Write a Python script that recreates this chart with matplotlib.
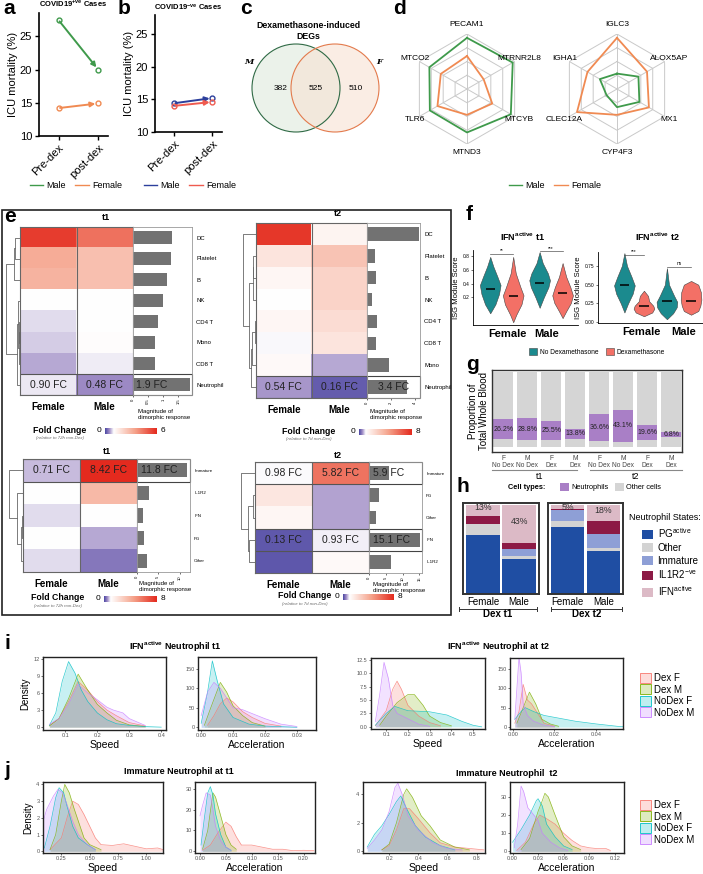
import numpy as np
import matplotlib
matplotlib.use('Agg')
import matplotlib.pyplot as plt
from matplotlib.colors import LinearSegmentedColormap, TwoSlopeNorm, to_rgba
from matplotlib.patches import Rectangle, Circle, Patch
from matplotlib.lines import Line2D
import matplotlib.transforms as mtrans

plt.rcParams['font.family'] = ['Liberation Sans', 'DejaVu Sans']
plt.rcParams['mathtext.default'] = 'regular'
plt.rcParams['axes.linewidth'] = 0.8

# ------------------------------------------------------------------ data
# a / b : ICU mortality
ab_timepoints = ['Pre-dex', 'post-dex']
a_male = [27.4, 20.0]
a_female = [14.2, 14.9]
b_male = [14.4, 15.2]
b_female = [14.0, 14.6]

# c : Venn counts
venn_m_only, venn_both, venn_f_only = 382, 525, 510

# d : radar charts
radar1_genes = ['PECAM1', 'MTRNR2L8', 'MTCYB', 'MTND3', 'TLR6', 'MTCO2']
radar1_male = [0.93, 0.96, 0.92, 0.79, 0.78, 0.79]
radar1_female = [0.60, 0.35, 0.53, 0.47, 0.62, 0.55]
radar2_genes = ['IGLC3', 'ALOX5AP', 'MX1', 'CYP4F3', 'CLEC12A', 'IGHA1']
radar2_male = [0.28, 0.45, 0.47, 0.33, 0.22, 0.36]
radar2_female = [0.93, 0.63, 0.67, 0.47, 0.84, 0.62]

# e : fold-change heatmaps
e_t1_cells = ['DC', 'Platelet', 'B', 'NK', 'CD4 T', 'Mono', 'CD8 T', 'Neutrophil']
e_t1_female = [5.6, 3.2, 3.0, 1.0, 0.85, 0.78, 0.62, 0.90]
e_t1_male = [4.5, 2.7, 2.7, 1.0, 1.0, 1.05, 0.92, 0.48]
e_t1_dimorph = [1.28, 1.25, 1.13, 0.98, 0.83, 0.74, 0.72, 1.9]
e_t1_links = [(0, 1, 0.35), (8, 2, 0.45), (4, 5, 0.05), (10, 6, 0.08), (3, 11, 0.12), (12, 7, 0.2), (9, 13, 1.0)]

e_t2_cells = ['DC', 'Platelet', 'B', 'NK', 'CD4 T', 'CD8 T', 'Mono', 'Neutrophil']
e_t2_female = [7.6, 2.0, 1.3, 1.0, 1.3, 0.97, 1.2, 0.54]
e_t2_male = [1.4, 3.2, 2.6, 2.6, 2.3, 2.0, 0.62, 0.16]
e_t2_dimorph = [4.4, 0.65, 0.73, 0.45, 0.84, 0.73, 1.83, 3.4]
e_t2_links = [(1, 2, 0.2), (8, 3, 0.25), (4, 5, 0.1), (10, 6, 0.3), (11, 7, 0.35), (9, 12, 0.55), (0, 13, 1.0)]

e_t1n_states = ['Immature', 'IL1R2', 'IFN', 'PG', 'Other']
e_t1n_female = [0.71, 1.05, 0.85, 1.0, 0.85]
e_t1n_male = [8.42, 3.6, 1.05, 0.62, 0.35]
e_t1n_dimorph = [11.8, 2.75, 1.5, 1.6, 2.4]
e_t1n_links = [(2, 3, 0.1), (5, 4, 0.15), (1, 6, 0.4), (0, 7, 1.0)]

e_t2n_states = ['Immature', 'PG', 'Other', 'IFN', 'IL1R2']
e_t2n_female = [0.98, 1.9, 1.3, 0.13, 0.12]
e_t2n_male = [5.82, 0.6, 0.6, 0.93, 1.2]
e_t2n_dimorph = [5.9, 3.1, 2.1, 15.1, 6.6]
e_t2n_links = [(1, 2, 0.15), (3, 4, 0.4), (5, 6, 0.5), (0, 7, 1.0)]

# f : violin profiles (y coordinate, relative density) and medians
f_t1_coords = [[-0.03, 0.1, 0.25, 0.38, 0.5, 0.65, 0.79],
               [-0.16, -0.05, 0.1, 0.23, 0.35, 0.55, 0.79],
               [0.05, 0.2, 0.35, 0.45, 0.55, 0.7, 0.86],
               [-0.1, 0.0, 0.12, 0.23, 0.35, 0.5, 0.7]]
f_t1_dens = [[0, 0.5, 0.85, 1.0, 0.7, 0.3, 0],
             [0, 0.3, 0.8, 1.0, 0.7, 0.25, 0],
             [0, 0.4, 0.85, 1.0, 0.8, 0.3, 0],
             [0, 0.35, 0.8, 1.0, 0.75, 0.35, 0]]
f_t1_median = [0.33, 0.22, 0.41, 0.26]
f_t2_coords = [[0.13, 0.25, 0.38, 0.49, 0.6, 0.75, 0.92],
               [0.08, 0.13, 0.18, 0.22, 0.28, 0.35, 0.42],
               [0.04, 0.12, 0.2, 0.27, 0.35, 0.5, 0.72],
               [0.1, 0.15, 0.22, 0.3, 0.4, 0.5, 0.55]]
f_t2_dens = [[0, 0.35, 0.8, 1.0, 0.7, 0.25, 0],
             [0, 0.8, 1.0, 0.9, 0.5, 0.4, 0],
             [0, 0.6, 0.95, 1.0, 0.7, 0.2, 0],
             [0, 0.7, 0.9, 1.0, 0.95, 0.7, 0]]
f_t2_median = [0.49, 0.21, 0.28, 0.28]

# g : proportion of whole blood
g_labels = ['F\nNo Dex', 'M\nNo Dex', 'F\nDex', 'M\nDex', 'F\nNo Dex', 'M\nNo Dex', 'F\nDex', 'M\nDex']
g_neutro = [26.2, 28.8, 25.5, 13.8, 36.6, 43.1, 19.6, 6.8]
g_other_lower = [10.7, 9.3, 9.3, 10.7, 8.0, 6.7, 9.3, 13.3]

# h : neutrophil states (%), bottom to top
h_states = ['PG$^{active}$', 'Other', 'Immature', 'IL1R2$^{-ve}$', 'IFN$^{active}$']
h_t1_female = [66, 12, 1, 8, 13]
h_t1_male = [39, 3.5, 8, 6.5, 43]
h_t2_female = [75, 7, 12, 1, 5]
h_t2_male = [48, 4, 15, 15, 18]

# i / j : density curves (x, density) for Dex F, Dex M, NoDex F, NoDex M
dens_groups = ['Dex F', 'Dex M', 'NoDex F', 'NoDex M']
i1_curves = [([0.05, 0.08, 0.11, 0.14, 0.17, 0.2, 0.23, 0.26, 0.3, 0.35], [0.3, 1.5, 4.5, 8.0, 6.5, 4.5, 3.0, 2.0, 0.8, 0.2]),
             ([0.05, 0.08, 0.11, 0.14, 0.17, 0.2, 0.23, 0.26, 0.3, 0.35], [0.2, 1.5, 5.0, 9.3, 6.5, 4.0, 2.5, 1.2, 0.4, 0.1]),
             ([0.05, 0.07, 0.09, 0.11, 0.13, 0.15, 0.17, 0.2, 0.23, 0.26, 0.3, 0.35, 0.4], [0.3, 2.5, 8.0, 11.5, 9.5, 6.5, 4.5, 2.5, 1.3, 0.6, 0.3, 0.1, 0.0]),
             ([0.05, 0.08, 0.11, 0.14, 0.17, 0.2, 0.23, 0.25, 0.28, 0.3, 0.35], [0.5, 1.5, 4.0, 7.5, 6.0, 4.8, 3.5, 3.0, 2.5, 1.5, 0.3])]
i2_curves = [([0.002, 0.004, 0.006, 0.008, 0.01, 0.013, 0.016, 0.02, 0.025], [5, 30, 60, 75, 65, 40, 25, 10, 3]),
             ([0.001, 0.003, 0.006, 0.008, 0.01, 0.013, 0.016, 0.02], [5, 50, 115, 90, 55, 30, 12, 3]),
             ([0.0, 0.002, 0.0035, 0.005, 0.007, 0.01, 0.015, 0.02, 0.03], [10, 90, 170, 120, 60, 25, 8, 3, 0]),
             ([0.0, 0.002, 0.004, 0.006, 0.008, 0.01, 0.013, 0.016, 0.02, 0.025, 0.03], [30, 90, 115, 100, 75, 50, 45, 35, 22, 8, 2])]
i3_curves = [([0.05, 0.1, 0.13, 0.15, 0.17, 0.2, 0.25, 0.3, 0.35], [0.2, 3, 7, 8.5, 7, 4, 2, 0.8, 0.2]),
             ([0.07, 0.1, 0.15, 0.2, 0.23, 0.27, 0.3, 0.35, 0.4], [0.3, 2, 4.5, 6, 6, 4, 2, 0.8, 0.2]),
             ([0.05, 0.1, 0.14, 0.2, 0.3, 0.38, 0.45, 0.5, 0.54], [0.3, 2.5, 3.8, 3.0, 2.8, 2.2, 1.0, 0.3, 0.0]),
             ([0.05, 0.07, 0.09, 0.11, 0.13, 0.15, 0.2, 0.25, 0.3], [1, 6, 12, 9, 4, 2.5, 1.5, 0.5, 0.1])]
i4_curves = [([0.001, 0.003, 0.005, 0.007, 0.009, 0.012, 0.015, 0.02], [10, 40, 110, 70, 60, 35, 10, 2]),
             ([0.002, 0.005, 0.008, 0.011, 0.014, 0.018, 0.022], [10, 50, 90, 60, 20, 8, 2]),
             ([0.001, 0.004, 0.006, 0.01, 0.015, 0.02, 0.03, 0.04, 0.05, 0.055], [20, 40, 50, 40, 30, 25, 15, 8, 2, 0]),
             ([0.001, 0.002, 0.003, 0.004, 0.005, 0.007, 0.01, 0.015, 0.02], [20, 100, 180, 140, 60, 30, 15, 5, 1])]
j1_curves = [([0.15, 0.25, 0.3, 0.35, 0.4, 0.45, 0.5, 0.55, 0.6, 0.7, 0.8, 0.9, 1.0, 1.1, 1.15], [0.1, 0.8, 2.0, 3.0, 2.8, 2.2, 1.5, 0.8, 0.4, 0.35, 0.45, 0.3, 0.15, 0.2, 0.1]),
             ([0.15, 0.2, 0.25, 0.28, 0.32, 0.36, 0.4, 0.45, 0.5, 0.6], [0.1, 1.0, 3.0, 4.0, 3.5, 2.6, 1.8, 0.8, 0.4, 0.1]),
             ([0.1, 0.15, 0.2, 0.23, 0.27, 0.3, 0.35, 0.4, 0.48, 0.55], [0.2, 1.5, 3.2, 3.8, 3.5, 2.7, 1.5, 0.8, 0.4, 0.1]),
             ([0.09, 0.12, 0.18, 0.22, 0.26, 0.3, 0.35, 0.4, 0.45, 0.5, 0.55], [1.8, 2.5, 3.3, 3.7, 3.5, 2.8, 1.8, 1.0, 0.6, 0.3, 0.1])]
j2_curves = [([0.005, 0.02, 0.035, 0.05, 0.06, 0.07, 0.08, 0.1, 0.12, 0.14, 0.16, 0.18, 0.2, 0.22], [0.5, 3, 9, 14, 12, 7, 3, 3, 2, 1, 1, 0.3, 0.5, 0.3]),
             ([0.005, 0.015, 0.025, 0.03, 0.04, 0.05, 0.06, 0.07], [1, 10, 28, 26, 17, 8, 3, 1]),
             ([0.002, 0.008, 0.015, 0.02, 0.025, 0.03, 0.04, 0.05, 0.06], [3, 15, 28, 31, 27, 18, 8, 2, 0.5]),
             ([0.0, 0.005, 0.012, 0.02, 0.025, 0.03, 0.04, 0.05, 0.06], [17, 22, 28, 27, 20, 12, 5, 2, 0.5])]
j3_curves = [([0.15, 0.2, 0.25, 0.3, 0.34, 0.4, 0.48, 0.55, 0.65, 0.75, 0.85], [0.1, 0.4, 1.5, 3.0, 3.0, 2.3, 1.3, 0.6, 0.3, 0.2, 0.1]),
             ([0.15, 0.2, 0.25, 0.3, 0.32, 0.36, 0.42, 0.48, 0.55, 0.65, 0.75], [0.1, 0.5, 2.0, 4.0, 4.4, 3.8, 2.5, 1.8, 0.8, 0.3, 0.1]),
             ([0.05, 0.1, 0.15, 0.2, 0.25, 0.28, 0.32, 0.38, 0.45, 0.55, 0.65], [0.3, 1.2, 1.8, 2.6, 3.5, 3.9, 3.0, 1.8, 1.0, 0.4, 0.1]),
             ([0.05, 0.1, 0.15, 0.2, 0.24, 0.26, 0.29, 0.33, 0.4, 0.5, 0.6, 0.7], [0.2, 0.8, 1.5, 2.8, 4.5, 4.8, 4.0, 2.5, 1.5, 0.6, 0.2, 0.1])]
j4_curves = [([0.005, 0.015, 0.025, 0.032, 0.04, 0.05, 0.06, 0.07, 0.08, 0.09, 0.1, 0.11, 0.115], [0.5, 5, 15, 20, 18, 15, 10, 6, 3, 2, 1.5, 1.5, 0.5]),
             ([0.01, 0.02, 0.03, 0.035, 0.038, 0.042, 0.05, 0.06, 0.07, 0.08], [1, 7, 22, 28, 32, 30, 20, 8, 3, 1]),
             ([0.0, 0.01, 0.02, 0.028, 0.03, 0.035, 0.04, 0.05, 0.06, 0.07], [5, 12, 20, 28, 29, 25, 15, 8, 3, 1]),
             ([0.002, 0.006, 0.01, 0.013, 0.018, 0.025, 0.03, 0.035, 0.045, 0.055, 0.065], [2, 15, 36, 33, 24, 20, 17, 10, 5, 2, 0.5])]

# ------------------------------------------------------------------ style
GREEN = '#3f9a4b'; ORANGE = '#f08a52'; BLUE = '#2c3f9c'; RED = '#ef5b4f'
TEAL = '#1b8a8e'; SALMON = '#f37066'
PURPLE = '#a97fc6'; LGRAY = '#d5d5d5'
H_COLORS = ['#1f4ea3', '#d3d3d3', '#8e9fd6', '#8c1a45', '#dcbac6']
DENS_COLORS = ['#F8766D', '#7CAE00', '#00BFC4', '#C77CFF']
CMAP = LinearSegmentedColormap.from_list('fc', [(0, '#4a47a3'), (0.25, '#a08dc6'), (0.5, '#ffffff'),
                                                (0.75, '#f5a28a'), (1, '#e42a1e')])

W, H = 703, 874
fig = plt.figure(figsize=(W / 100, H / 100), dpi=100)


def px(x0, y0, x1, y1):
    return [x0 / W, 1 - y1 / H, (x1 - x0) / W, (y1 - y0) / H]


def ftext(x, y, s, **kw):
    return fig.text(x / W, 1 - y / H, s, **kw)


def fline(xs, ys, **kw):
    fig.add_artist(Line2D([x / W for x in xs], [1 - y / H for y in ys], transform=fig.transFigure, **kw))


# panel letters
for lab, x, y in [('a', 3, -1), ('b', 118, -1), ('c', 240, -1), ('d', 393, -1), ('e', 4, 207),
                  ('f', 466, 205), ('g', 466, 355), ('h', 456, 477), ('i', 4, 634), ('j', 4, 761)]:
    ftext(x, y, lab, fontsize=15, fontweight='bold', va='top', ha='left')


# ------------------------------------------------------------------ a, b
def line_panel(box, male, female, cm, cf, ylim, title):
    ax = fig.add_axes(px(*box))
    xs = np.arange(len(ab_timepoints))
    for vals, c in [(male, cm), (female, cf)]:
        ax.annotate('', xy=(xs[1], vals[1]), xytext=(xs[0], vals[0]),
                    arrowprops=dict(arrowstyle='-|>', color=c, lw=1.4, shrinkA=1, shrinkB=2, mutation_scale=7))
        ax.plot(xs, vals, 'o', mfc='none', mec=c, ms=3.5, mew=1)
    ax.set_xlim(-0.5, 1.25)
    ax.set_ylim(*ylim)
    ax.set_yticks([10, 15, 20, 25])
    ax.set_xticks(xs)
    ax.set_xticklabels(ab_timepoints, rotation=45, ha='right', rotation_mode='anchor')
    ax.tick_params(labelsize=8, width=1, length=3, pad=2)
    for s in ['top', 'right']:
        ax.spines[s].set_visible(False)
    for s in ['left', 'bottom']:
        ax.spines[s].set_linewidth(1.2)
    ax.set_ylabel('ICU mortality (%)', fontsize=8, labelpad=1)
    ax.set_title(title, fontsize=5.5, fontweight='bold', pad=4)
    return ax


line_panel((39, 13, 108, 136), a_male, a_female, GREEN, ORANGE, (10, 28.5), 'COVID19$^{+ve}$ Cases')
line_panel((155, 15, 222, 132), b_male, b_female, BLUE, RED, (10, 27.9), 'COVID19$^{-ve}$ Cases')
for cx, cm, cf in [(76, GREEN, ORANGE), (190, BLUE, RED), (555, GREEN, ORANGE)]:
    fig.legend([Line2D([], [], color=cm, lw=1), Line2D([], [], color=cf, lw=1)], ['Male', 'Female'],
               loc='center', bbox_to_anchor=(cx / W, 1 - 186 / H), ncol=2, frameon=False, fontsize=6.5,
               handlelength=1.5, columnspacing=1.0, handletextpad=0.4)

# ------------------------------------------------------------------ c
axc = fig.add_axes(px(240, 42, 390, 142))
axc.set_xlim(240, 390)
axc.set_ylim(142, 42)
axc.axis('off')
axc.add_patch(Circle((296, 88), 44, fc='#dfeadc', ec='none', alpha=0.6))
axc.add_patch(Circle((335, 88), 44, fc='#f8e2d3', ec='none', alpha=0.6))
axc.add_patch(Circle((296, 88), 44, fc='none', ec='#2f6a45', lw=0.8))
axc.add_patch(Circle((335, 88), 44, fc='none', ec='#e37a4c', lw=0.8))
axc.text(281, 88, str(venn_m_only), ha='center', va='center', fontsize=6)
axc.text(316, 88, str(venn_both), ha='center', va='center', fontsize=6)
axc.text(356, 88, str(venn_f_only), ha='center', va='center', fontsize=6)
axc.text(249, 62, 'M', ha='center', va='center', fontsize=6, fontstyle='italic', fontweight='bold', family='DejaVu Serif')
axc.text(379, 62, 'F', ha='center', va='center', fontsize=6, fontstyle='italic', fontweight='bold', family='DejaVu Serif')
ftext(308, 31, 'Dexamethasone-induced\nDEGs', ha='center', va='center', fontsize=6.3, fontweight='bold')


# ------------------------------------------------------------------ d
def radar(box, genes, male, female):
    ax = fig.add_axes(px(*box), projection='polar')
    ax.set_theta_zero_location('N')
    ax.set_theta_direction(-1)
    n = len(genes)
    th = np.deg2rad(np.arange(n) * 360.0 / n)
    thc = np.append(th, th[0])
    for r in [0.25, 0.5, 0.75, 1.0]:
        ax.plot(thc, [r] * len(thc), color='#c9c9c9', lw=0.7)
    for t in th:
        ax.plot([t, t], [0, 1], color='#c9c9c9', lw=0.7)
    ax.plot(thc, np.append(male, male[0]), color=GREEN, lw=1.3)
    ax.plot(thc, np.append(female, female[0]), color=ORANGE, lw=1.3)
    ax.set_ylim(0, 1)
    ax.grid(False)
    ax.spines['polar'].set_visible(False)
    ax.set_xticks([])
    ax.set_yticks([])
    ax.patch.set_alpha(0)
    for t, g in zip(th, genes):
        deg = np.rad2deg(t) % 360
        if deg < 1:
            ax.text(t, 1.1, g, ha='center', va='bottom', fontsize=6)
        elif abs(deg - 180) < 1:
            ax.text(t, 1.1, g, ha='center', va='top', fontsize=6)
        else:
            ax.text(t, 1.1, g, ha='center', va='center', fontsize=6)


radar((412, 34, 522, 144), radar1_genes, radar1_male, radar1_female)
radar((562, 34, 672, 144), radar2_genes, radar2_male, radar2_female)

# ------------------------------------------------------------------ e
fig.add_artist(Rectangle((2 / W, 1 - 615 / H), 449 / W, 405 / H, transform=fig.transFigure,
                         fill=False, ec='#222', lw=1.2))


def draw_dend(box, n, links):
    ax = fig.add_axes(px(*box))
    pos = {i: float(i) for i in range(n)}
    hgt = {i: 0.0 for i in range(n)}
    k = n
    for a, b, h in links:
        ax.plot([hgt[a], h, h, hgt[b]], [pos[a], pos[a], pos[b], pos[b]], color='#666', lw=0.6)
        pos[k] = (pos[a] + pos[b]) / 2
        hgt[k] = h
        k += 1
    ax.set_ylim(n - 0.5, -0.5)
    ax.set_xlim(1.05, 0)
    ax.axis('off')


def heat_block(hm, bar, dend, rows, fem, mal, dim, vmax, links, bxlim, bxticks, title, title_xy,
               hl, bar_tx, lab_fs, mag_xy):
    n = len(rows)
    norm = TwoSlopeNorm(vmin=0, vcenter=1, vmax=vmax)
    ax = fig.add_axes(px(*hm))
    ax.imshow(np.column_stack([fem, mal]), cmap=CMAP, norm=norm, aspect='auto', interpolation='nearest')
    ax.axvline(0.5, color='#666', lw=0.8)
    for i in hl:
        ax.axhline(i - 0.5, color='#555', lw=0.8)
        ax.axhline(i + 0.5, color='#555', lw=0.8)
        ax.text(0, i, f'{fem[i]:.2f} FC', ha='center', va='center', fontsize=7.5, color='#222')
        ax.text(1, i, f'{mal[i]:.2f} FC', ha='center', va='center', fontsize=7.5, color='#222')
    ax.set_xticks([0, 1])
    ax.set_xticklabels(['Female', 'Male'], fontweight='bold', fontsize=7)
    ax.tick_params(length=0, pad=5)
    ax.set_yticks([])
    for s in ax.spines.values():
        s.set_color('#666')
        s.set_linewidth(0.8)
    ftext(title_xy[0], title_xy[1], title, ha='center', va='center', fontsize=6.5, fontweight='bold')

    axb = fig.add_axes(px(*bar))
    axb.barh(np.arange(n), dim, height=0.62, color='#727272')
    axb.set_ylim(n - 0.5, -0.5)
    axb.set_xlim(*bxlim)
    axb.yaxis.tick_right()
    axb.set_yticks(np.arange(n))
    axb.set_yticklabels(rows, fontsize=lab_fs)
    axb.set_xticks(bxticks)
    axb.set_xticklabels([f'{t:g}' for t in bxticks], fontsize=3, rotation=90)
    axb.tick_params(axis='y', length=0, pad=3)
    axb.tick_params(axis='x', length=1.5, width=0.4, pad=1)
    for s in axb.spines.values():
        s.set_color('#999')
        s.set_linewidth(0.6)
    for i in hl:
        axb.add_patch(Rectangle((bxlim[0], i - 0.5), bxlim[1] - bxlim[0], 1, fill=False, ec='#444',
                                lw=0.8, clip_on=False))
        axb.text(bar_tx, i, f'{dim[i]:.1f} FC', transform=mtrans.blended_transform_factory(axb.transAxes, axb.transData),
                 ha='left', va='center', fontsize=7.5, color='#222')
    ftext(mag_xy[0], mag_xy[1], 'Magnitude of\ndimorphic response', ha='left', va='top', fontsize=4.3,
          linespacing=1.2)
    draw_dend(dend, n, links)


def fc_legend(xt, y, xb0, xb1, vmax, rel):
    ftext(xt, y - 1, 'Fold Change', fontsize=6.3, fontweight='bold', ha='center', va='center')
    ftext(xt, y + 7, rel, fontsize=3.2, fontstyle='italic', ha='center', va='center', color='#666')
    cax = fig.add_axes(px(xb0, y - 3, xb1, y + 3))
    grad = np.linspace(0, vmax, 256)[None, :]
    cax.imshow(grad, cmap=CMAP, norm=TwoSlopeNorm(vmin=0, vcenter=1, vmax=vmax), aspect='auto')
    cax.axis('off')
    ftext(xb0 - 4, y, '0', fontsize=6, ha='right', va='center')
    ftext(xb1 + 4, y, f'{vmax}', fontsize=6, ha='left', va='center')


heat_block((20, 227, 133, 395), (133, 227, 192, 395), (5, 227, 20, 395), e_t1_cells, e_t1_female, e_t1_male,
           e_t1_dimorph, 6, e_t1_links, (0, 1.95), [0, 0.5, 1, 1.5], 't1', (106, 218), [7], 0.05, 4.3, (138, 409))
heat_block((256, 223, 367, 398), (367, 223, 420, 398), (242, 223, 256, 398), e_t2_cells, e_t2_female, e_t2_male,
           e_t2_dimorph, 8, e_t2_links, (0, 4.45), [0, 2, 4], 't2', (338, 214), [7], 0.2, 4.3, (370, 409))
heat_block((23, 459, 137, 572), (137, 459, 190, 572), (8, 459, 23, 572), e_t1n_states, e_t1n_female, e_t1n_male,
           e_t1n_dimorph, 8, e_t1n_links, (0, 12.4), [0, 5, 10], 't1', (107, 452), [0], 0.07, 3.2, (139, 581))
heat_block((255, 462, 369, 573), (369, 462, 422, 573), (240, 462, 255, 573), e_t2n_states, e_t2n_female, e_t2n_male,
           e_t2n_dimorph, 8, e_t2n_links, (0, 15.8), [0, 5, 10, 15], 't2', (338, 455), [0, 3], 0.07, 3.2, (373, 582))
fc_legend(60, 431, 105, 157, 6, '(relative to 72h non-Dex)')
fc_legend(309, 432, 359, 412, 8, '(relative to 7d non-Dex)')
fc_legend(58, 599, 104, 157, 8, '(relative to 72h non-Dex)')
fc_legend(305, 597, 343, 394, 8, '(relative to 7d non-Dex)')


# ------------------------------------------------------------------ f
def violin_panel(box, coords, dens, med, positions, ylim, yticks, ytl, title, title_xy, sig, labpos, ylabel):
    ax = fig.add_axes(px(*box))
    stats = [dict(coords=np.array(c), vals=np.array(v), mean=m, median=m, min=c[0], max=c[-1])
             for c, v, m in zip(coords, dens, med)]
    parts = ax.violin(stats, positions=positions, widths=0.9, showmeans=False, showextrema=False,
                      showmedians=False)
    for i, b in enumerate(parts['bodies']):
        b.set_facecolor(TEAL if i % 2 == 0 else SALMON)
        b.set_edgecolor('#444')
        b.set_linewidth(0.4)
        b.set_alpha(1)
    ax.hlines(med, np.array(positions) - 0.2, np.array(positions) + 0.2, color='black', lw=1.1)
    for (p0, p1, y, s) in sig:
        ax.plot([p0, p1], [y, y], color='#555', lw=0.5)
        ax.text((p0 + p1) / 2, y + 0.01, s, ha='center', va='bottom', fontsize=3.5)
    ax.set_xlim(0, 4.57)
    ax.set_ylim(*ylim)
    ax.set_yticks(yticks)
    ax.set_yticklabels(ytl, fontsize=3.5)
    ax.set_xticks(labpos)
    ax.set_xticklabels(['Female', 'Male'], fontsize=8, fontweight='bold')
    ax.tick_params(axis='x', length=0, pad=3)
    ax.tick_params(axis='y', length=1.5, width=0.4, pad=1)
    for s in ['top', 'right']:
        ax.spines[s].set_visible(False)
    for s in ['left', 'bottom']:
        ax.spines[s].set_linewidth(0.6)
    if ylabel:
        ax.set_ylabel('ISG Module Score', fontsize=5.5, labelpad=2)
    ftext(title_xy[0], title_xy[1], title, ha='center', va='center', fontsize=6.5, fontweight='bold')


violin_panel((473, 250, 578, 325), f_t1_coords, f_t1_dens, f_t1_median, [0.75, 1.75, 2.9, 3.9],
             (-0.2, 0.89), [0.2, 0.4, 0.6, 0.8], ['0.2', '0.4', '0.6', '0.8'], 'IFN$^{active}$ t1', (523, 237),
             [(0.75, 1.75, 0.83, '**'), (2.9, 3.9, 0.87, '***')], [1.48, 3.2], True)
violin_panel((598, 252, 703, 323), f_t2_coords, f_t2_dens, f_t2_median, [1.15, 2.0, 3.0, 4.05],
             (-0.01, 0.935), [0, 0.25, 0.5, 0.75], ['0.00', '0.25', '0.50', '0.75'], 'IFN$^{active}$ t2', (657, 237),
             [(1.15, 2.0, 0.9, '***'), (3.0, 4.05, 0.74, 'ns')], [1.91, 3.74], True)
fig.legend([Patch(fc=TEAL, ec='#444', lw=0.4), Patch(fc=SALMON, ec='#444', lw=0.4)],
           ['No Dexamethasone', 'Dexamethasone'], loc='center', bbox_to_anchor=(597 / W, 1 - 352 / H),
           ncol=2, frameon=False, fontsize=4.8, handlelength=1.2, handleheight=1.2, columnspacing=1.2,
           handletextpad=0.4)

# ------------------------------------------------------------------ g
axg = fig.add_axes(px(492, 370, 682, 452))
xg = np.arange(len(g_labels))
g_low = np.array(g_other_lower) / 100
g_neu = np.array(g_neutro) / 100
g_up = 1 - g_low - g_neu
axg.bar(xg, g_low, width=0.85, color=LGRAY)
axg.bar(xg, g_neu, bottom=g_low, width=0.85, color=PURPLE)
axg.bar(xg, g_up, bottom=g_low + g_neu, width=0.85, color=LGRAY)
for x, lo, v in zip(xg, g_low, g_neutro):
    axg.text(x, lo + v / 200, f'{v:.1f}%', ha='center', va='center', fontsize=5, color='#222')
axg.set_xlim(-0.47, 7.45)
axg.set_ylim(-0.07, 1.03)
axg.set_yticks([])
axg.set_xticks(xg)
axg.set_xticklabels(g_labels, fontsize=4.8, color='#444', linespacing=1.0)
axg.tick_params(axis='x', length=0, pad=2)
for s in axg.spines.values():
    s.set_linewidth(1.0)
    s.set_color('#333')
axg.set_ylabel('Proportion of\nTotal Whole Blood', fontsize=7, labelpad=2, linespacing=1.1)
fline([492, 577], [470, 470], color='#888', lw=0.8)
fline([590, 682], [470, 470], color='#888', lw=0.8)
ftext(540, 477, 't1', ha='center', va='center', fontsize=6.5)
ftext(636, 477, 't2', ha='center', va='center', fontsize=6.5)
ftext(527, 487, 'Cell types:', ha='center', va='center', fontsize=5.3, fontweight='bold')
fig.legend([Patch(fc=PURPLE), Patch(fc=LGRAY)], ['Neutrophils', 'Other cells'], loc='center left',
           bbox_to_anchor=(553 / W, 1 - 487 / H), ncol=2, frameon=False, fontsize=5.3, handlelength=1.3,
           handleheight=1.3, columnspacing=0.8, handletextpad=0.3)


# ------------------------------------------------------------------ h
def h_panel(box, fem, mal, title, br):
    ax = fig.add_axes(px(*box))
    data = np.array([fem, mal], dtype=float) / 100
    bottom = np.zeros(2)
    for k in range(data.shape[1]):
        ax.bar([0, 1], data[:, k], bottom=bottom, width=0.92, color=H_COLORS[k])
        bottom += data[:, k]
    for i in range(2):
        v = data[i, -1]
        ax.text(i, min(bottom[i] - v / 2 + 0.03, 0.975), f'{v * 100:.0f}%', ha='center', va='center',
                fontsize=6.3, color='#333')
    ax.set_xlim(-0.55, 1.55)
    ax.set_ylim(0, 1.02)
    ax.set_yticks([])
    ax.set_xticks([0, 1])
    ax.set_xticklabels(['Female', 'Male'], fontsize=7)
    ax.tick_params(axis='x', length=0, pad=2)
    for s in ax.spines.values():
        s.set_linewidth(1.4)
        s.set_color('#333')
    fline([br[0], br[1]], [609, 609], color='#333', lw=0.7)
    fline([br[0], br[0]], [607, 611], color='#333', lw=0.7)
    fline([br[1], br[1]], [607, 611], color='#333', lw=0.7)
    ftext((br[0] + br[1]) / 2, 614, title, ha='center', va='center', fontsize=7, fontweight='bold')


h_panel((463, 503, 539, 594), h_t1_female, h_t1_male, 'Dex t1', (459, 537))
h_panel((548, 503, 623, 594), h_t2_female, h_t2_male, 'Dex t2', (551, 622))
ftext(629, 518, 'Neutrophil States:', ha='left', va='center', fontsize=6.5)
fig.legend([Patch(fc=c) for c in H_COLORS], h_states, loc='upper left', bbox_to_anchor=(642 / W, 1 - 526 / H),
           frameon=False, fontsize=7, handlelength=1.1, handleheight=1.1, labelspacing=0.3, handletextpad=0.5,
           borderaxespad=0, borderpad=0)


# ------------------------------------------------------------------ i / j
def dens_panel(box, curves, xlim, ylim, xticks, xtl, yticks, ytl, xlabel, ylabel):
    ax = fig.add_axes(px(*box))
    for (x, y), c in zip(curves, DENS_COLORS):
        ax.fill_between(x, y, color=c, alpha=0.22, lw=0)
        ax.plot(x, y, color=c, lw=0.5, alpha=0.8)
    ax.set_xlim(*xlim)
    ax.set_ylim(*ylim)
    ax.set_xticks(xticks)
    ax.set_xticklabels(xtl, fontsize=4, color='#555')
    ax.set_yticks(yticks)
    ax.set_yticklabels(ytl, fontsize=4, color='#555')
    ax.tick_params(length=1.5, width=0.4, pad=1)
    for s in ax.spines.values():
        s.set_linewidth(1.0)
        s.set_color('#222')
    ax.set_xlabel(xlabel, fontsize=7.5, labelpad=1)
    if ylabel:
        ax.set_ylabel('Density', fontsize=7, labelpad=2)


dens_panel((43, 657, 166, 730), i1_curves, (0.03, 0.415), (-0.5, 12.3), [0.1, 0.2, 0.3, 0.4],
           ['0.1', '0.2', '0.3', '0.4'], [0, 3, 6, 9, 12], ['0', '3', '6', '9', '12'], 'Speed', True)
dens_panel((198, 657, 316, 730), i2_curves, (-0.001, 0.036), (-7, 180), [0, 0.01, 0.02, 0.03],
           ['0.00', '0.01', '0.02', '0.03'], [0, 50, 100, 150], ['0', '50', '100', '150'], 'Acceleration', False)
dens_panel((371, 658, 485, 729), i3_curves, (0.03, 0.555), (-0.4, 12.8), [0.1, 0.2, 0.3, 0.4, 0.5],
           ['0.1', '0.2', '0.3', '0.4', '0.5'], [0, 2.5, 5, 7.5, 10, 12.5],
           ['0.0', '2.5', '5.0', '7.5', '10.0', '12.5'], 'Speed', False)
dens_panel((510, 658, 623, 729), i4_curves, (-0.0013, 0.0528), (-5, 178), [0, 0.02, 0.04],
           ['0.00', '0.02', '0.04'], [0, 50, 100, 150], ['0', '50', '100', '150'], 'Acceleration', False)
dens_panel((43, 782, 163, 853), j1_curves, (0.088, 1.147), (-0.1, 4.14), [0.25, 0.5, 0.75, 1.0],
           ['0.25', '0.50', '0.75', '1.00'], [0, 1, 2, 3, 4], ['0', '1', '2', '3', '4'], 'Speed', True)
dens_panel((195, 782, 315, 853), j2_curves, (-0.0096, 0.222), (-0.8, 33.2), [0, 0.05, 0.1, 0.15, 0.2],
           ['0.00', '0.05', '0.10', '0.15', '0.20'], [0, 10, 20, 30], ['0', '10', '20', '30'], 'Acceleration', False)
dens_panel((363, 782, 485, 853), j3_curves, (0.021, 0.857), (-0.12, 4.88), [0.2, 0.4, 0.6, 0.8],
           ['0.2', '0.4', '0.6', '0.8'], [0, 2, 4], ['0', '2', '4'], 'Speed', False)
dens_panel((510, 782, 624, 853), j4_curves, (-0.003, 0.131), (-0.9, 38.2), [0, 0.03, 0.06, 0.09, 0.12],
           ['0.00', '0.03', '0.06', '0.09', '0.12'], [0, 10, 20, 30], ['0', '10', '20', '30'], 'Acceleration', False)

ftext(175, 647, 'IFN$^{active}$ Neutrophil t1', ha='center', va='center', fontsize=6.5, fontweight='bold')
ftext(498, 647, 'IFN$^{active}$ Neutrophil at t2', ha='center', va='center', fontsize=6.5, fontweight='bold')
ftext(179, 772, 'Immature Neutrophil at t1', ha='center', va='center', fontsize=6.5, fontweight='bold')
ftext(507, 773, 'Immature Neutrophil  t2', ha='center', va='center', fontsize=6.5, fontweight='bold')
for ytop in [673, 800]:
    fig.legend([Patch(fc=to_rgba(c, 0.25), ec=c, lw=0.6) for c in DENS_COLORS], dens_groups, loc='upper left',
               bbox_to_anchor=(640 / W, 1 - ytop / H), frameon=False, fontsize=7, handlelength=1.1,
               handleheight=1.2, labelspacing=0.12, handletextpad=0.3, borderaxespad=0, borderpad=0)

fig.savefig('out.png', dpi=100)
